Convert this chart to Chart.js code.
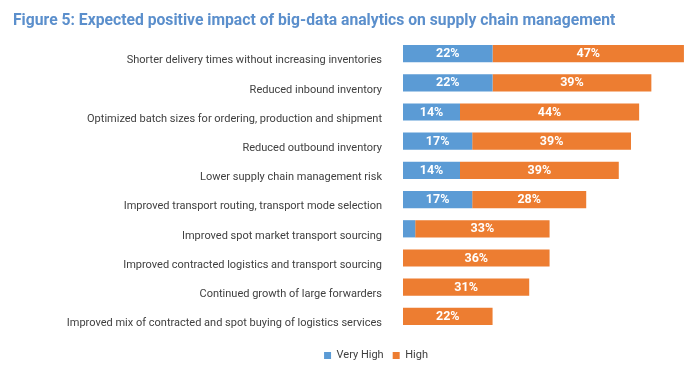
<!DOCTYPE html>
<html>
<head>
<meta charset="utf-8">
<script src="https://cdn.jsdelivr.net/npm/chart.js@4.4.0/dist/chart.umd.min.js"></script>
<style>
	html, body { margin: 0; padding: 0; background: #fff; }
	#wrap { position: relative; width: 691px; height: 375px; overflow: hidden; }
	#title {
		position: absolute; left: 13px; top: 9px;
		font-family: Roboto, sans-serif; font-weight: bold; font-size: 17px;
		color: #5B8FCC; white-space: nowrap; transform-origin: 0 0;
	}
	#chart { position: absolute; left: 0; top: 0; }
</style>
</head>
<body>
<div id="wrap">
	<canvas id="chart" width="691" height="375"></canvas>
	<span id="title">Figure 5: Expected positive impact of big-data analytics on supply chain management</span>
</div>
<script>
const categories = [
	"Shorter delivery times without increasing inventories",
	"Reduced inbound inventory",
	"Optimized batch sizes for ordering, production and shipment",
	"Reduced outbound inventory",
	"Lower supply chain management risk",
	"Improved transport routing, transport mode selection",
	"Improved spot market transport sourcing",
	"Improved contracted logistics and transport sourcing",
	"Continued growth of large forwarders",
	"Improved mix of contracted and spot buying of logistics services",
];
const veryHigh = [22, 22, 14, 17, 14, 17, 3, 0, 0, 0];
const high = [47, 39, 44, 39, 39, 28, 33, 36, 31, 22];

// condensed look for the title
let title = document.getElementById("title");
title.style.transform = "scaleX(" + (602 / title.offsetWidth) + ")";

// white value labels inside the bar segments
const barValues = {
	id: "barValues",
	afterDatasetsDraw(chart) {
		let ctx = chart.ctx;
		ctx.save();
		ctx.font = "bold 12.5px Roboto";
		ctx.fillStyle = "#fff";
		ctx.textAlign = "center";
		ctx.textBaseline = "middle";
		chart.data.datasets.forEach((ds, i) => {
			chart.getDatasetMeta(i).data.forEach((bar, j) => {
				let v = ds.data[j];
				if (v < 5) return;
				ctx.fillText(v + "%", (bar.x + bar.base) / 2, bar.y + 0.5);
			});
		});
		ctx.restore();
	},
};

new Chart(document.getElementById("chart"), {
	type: "bar",
	data: {
		labels: categories,
		datasets: [
			{ label: "Very High", data: veryHigh, backgroundColor: "#5B9BD5" },
			{ label: "High", data: high, backgroundColor: "#ED7D31" },
		],
	},
	options: {
		indexAxis: "y",
		responsive: false,
		animation: false,
		categoryPercentage: 1,
		barPercentage: 0.59,
		layout: { padding: { top: 39, left: 64, right: 3, bottom: 4 } },
		scales: {
			x: {
				stacked: true,
				min: 0,
				max: 70,
				grid: { display: false },
				border: { display: false },
				ticks: { display: false },
				afterFit: (s) => { s.height = 10; },
			},
			y: {
				stacked: true,
				grid: { display: false },
				border: { display: false },
				ticks: {
					padding: 13,
					labelOffset: 7,
					color: "#404040",
					font: { family: "Roboto", size: 11 },
				},
				afterFit: (s) => { s.width = 339; },
			},
		},
		plugins: {
			legend: {
				position: "bottom",
				labels: {
					boxWidth: 7,
					boxHeight: 7,
					padding: 9,
					color: "#404040",
					font: { family: "Roboto", size: 11 },
				},
			},
			tooltip: { enabled: false },
		},
	},
	plugins: [barValues],
});
</script>
</body>
</html>
